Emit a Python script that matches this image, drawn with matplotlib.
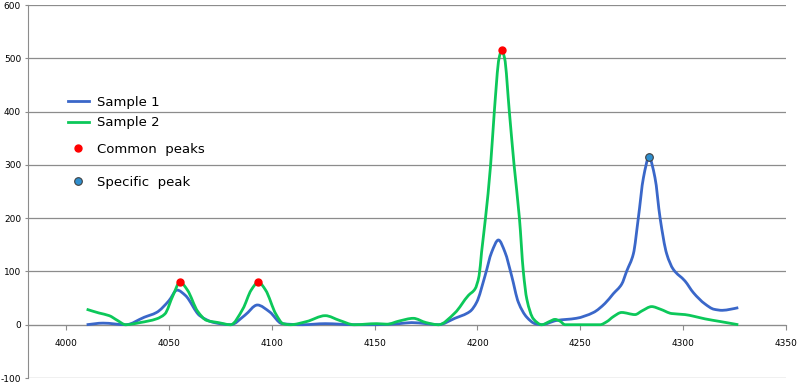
import matplotlib
matplotlib.use("Agg")
from matplotlib import pyplot as plt
from matplotlib.lines import Line2D
from matplotlib.path import Path
from matplotlib.patches import PathPatch

plt.rcParams["axes.unicode_minus"] = False

# values
x1 = [4010, 4018, 4029, 4038, 4044, 4050, 4054, 4058, 4065, 4072, 4080, 4087, 4093,
      4099, 4105, 4115, 4126, 4140, 4150, 4162, 4168, 4175, 4181, 4189, 4196.4,
      4199.6, 4203.7, 4206.9, 4210.2, 4213.4, 4216.6, 4219.9, 4224, 4228, 4231,
      4238.5, 4248, 4256.4, 4262, 4266, 4270.1, 4272.6, 4275.8, 4278.2, 4280.7,
      4283.4, 4286.3, 4288.8, 4292, 4295.2, 4300.9, 4305, 4310.6, 4315, 4319, 4323,
      4326.8]
y1 = [0, 3, 0, 14, 23, 45, 65, 55, 17, 4, 0, 18, 37,
      24, 2, 0, 2, 0, 0, 2, 4, 2, 0, 12, 25,
      42, 92, 136, 159, 136, 92, 42, 14, 2, 0,
      8, 12, 23, 40, 58, 76, 101, 133, 200, 276,
      314, 276, 200, 133, 104, 82, 60, 39, 29, 27, 29,
      32]

x2 = [4010, 4016, 4021, 4025, 4029, 4036, 4044, 4048, 4052, 4055.4, 4059, 4064,
      4068.4, 4074, 4080, 4086, 4090, 4093.5, 4097, 4102, 4105.5, 4109, 4117, 4126,
      4133, 4140, 4151, 4156, 4162, 4168.8, 4175, 4181, 4189, 4195.6, 4198.8, 4200.8,
      4202, 4203.9, 4206.4, 4208.2, 4210.5, 4211.8, 4213.2, 4215.5, 4217.8, 4220.4,
      4222.3, 4224, 4227.2, 4231.3, 4235, 4237.7, 4240, 4242.6, 4250, 4259.6, 4263,
      4266, 4270.1, 4276.6, 4280, 4284.7, 4289, 4294.4, 4300.9, 4305, 4310.6, 4318,
      4326.8]
y2 = [29, 22, 17, 8, 0, 4, 11, 20, 55, 80, 65, 25,
      8, 4, 0, 30, 65, 80, 65, 20, 2, 0, 6, 17,
      8, 0, 2, 1, 7, 12, 4, 0, 22, 55, 67, 92,
      136, 200, 300, 400, 500, 515, 500, 400, 300, 200,
      100, 48, 11, 0, 6, 10, 7, 0, 0, 0, 6,
      15, 23, 19, 26, 34, 29, 21, 19, 16, 11, 6,
      0]

common_x = [4055.4, 4093.5, 4211.8]
common_y = [80, 80, 515]
specific_x = [4283.4]
specific_y = [315]

yticks = [-100, 0, 100, 200, 300, 400, 500, 600]
xticks = [4000, 4050, 4100, 4150, 4200, 4250, 4300, 4350]

blue = "#3a67c9"
green = "#0cc85a"
gray = "#8c8c8c"


def smooth_path(xs, ys):
    # smooth line drawn as bezier segments through the points (monotone slopes)
    n = len(xs)
    h = [xs[i + 1] - xs[i] for i in range(n - 1)]
    d = [(ys[i + 1] - ys[i]) / h[i] for i in range(n - 1)]
    m = [d[0]] + [0.0] * (n - 2) + [d[-1]]
    for i in range(1, n - 1):
        if d[i - 1] * d[i] > 0:
            w1 = 2 * h[i] + h[i - 1]
            w2 = h[i] + 2 * h[i - 1]
            m[i] = (w1 + w2) / (w1 / d[i - 1] + w2 / d[i])
    verts = [(xs[0], ys[0])]
    codes = [Path.MOVETO]
    for i in range(n - 1):
        verts += [(xs[i] + h[i] / 3, ys[i] + m[i] * h[i] / 3),
                  (xs[i + 1] - h[i] / 3, ys[i + 1] - m[i + 1] * h[i] / 3),
                  (xs[i + 1], ys[i + 1])]
        codes += [Path.CURVE4] * 3
    return Path(verts, codes)


fig = plt.figure(figsize=(8, 3.86), dpi=100)
ax = fig.add_axes([28 / 800, 8 / 386, 758 / 800, 373 / 386])

ax.add_patch(PathPatch(smooth_path(x1, y1), fc="none", ec=blue, lw=2,
                       joinstyle="round", zorder=3))
ax.add_patch(PathPatch(smooth_path(x2, y2), fc="none", ec=green, lw=2,
                       joinstyle="round", zorder=3))
ax.plot(common_x, common_y, "o", color="#ff0000", ms=5, mec="#ff0000", zorder=4)
ax.plot(specific_x, specific_y, "o", color="#2f8fcf", ms=5.5, mec="#404040",
        mew=0.8, zorder=4)

ax.set_xlim(3981.5, 4350)
ax.set_ylim(-100, 600)
ax.set_xticks(xticks)
ax.set_yticks(yticks)
ax.yaxis.grid(True, color=gray, lw=0.9)
ax.set_axisbelow(True)

for s in ["top", "right"]:
    ax.spines[s].set_visible(False)
ax.spines["left"].set_color(gray)
ax.spines["bottom"].set_position(("data", 0))
ax.spines["bottom"].set_color(gray)
ax.tick_params(axis="both", colors=gray, labelcolor="black", labelsize=6.5)
ax.tick_params(axis="y", length=2, pad=3)
ax.tick_params(axis="x", length=3.5, pad=7)

h1 = Line2D([], [], color=blue, lw=2)
h2 = Line2D([], [], color=green, lw=2)
h3 = Line2D([], [], ls="none", marker="o", color="#ff0000", ms=5)
h4 = Line2D([], [], ls="none", marker="o", color="#2f8fcf", ms=5.5, mec="#404040", mew=0.8)

leg1 = ax.legend([h1, h2], ["Sample 1", "Sample 2"], loc="upper left",
                 bbox_to_anchor=(0.037, 0.788), frameon=False, fontsize=9.5,
                 handlelength=1.6, handletextpad=0.6, labelspacing=0.55)
ax.add_artist(leg1)
ax.legend([h3, h4], ["Common  peaks", "Specific  peak"], loc="upper left",
          bbox_to_anchor=(0.037, 0.662), frameon=False, fontsize=9.5,
          handlelength=1.6, handletextpad=0.6, labelspacing=1.5)

fig.savefig("out.png", dpi=100)
